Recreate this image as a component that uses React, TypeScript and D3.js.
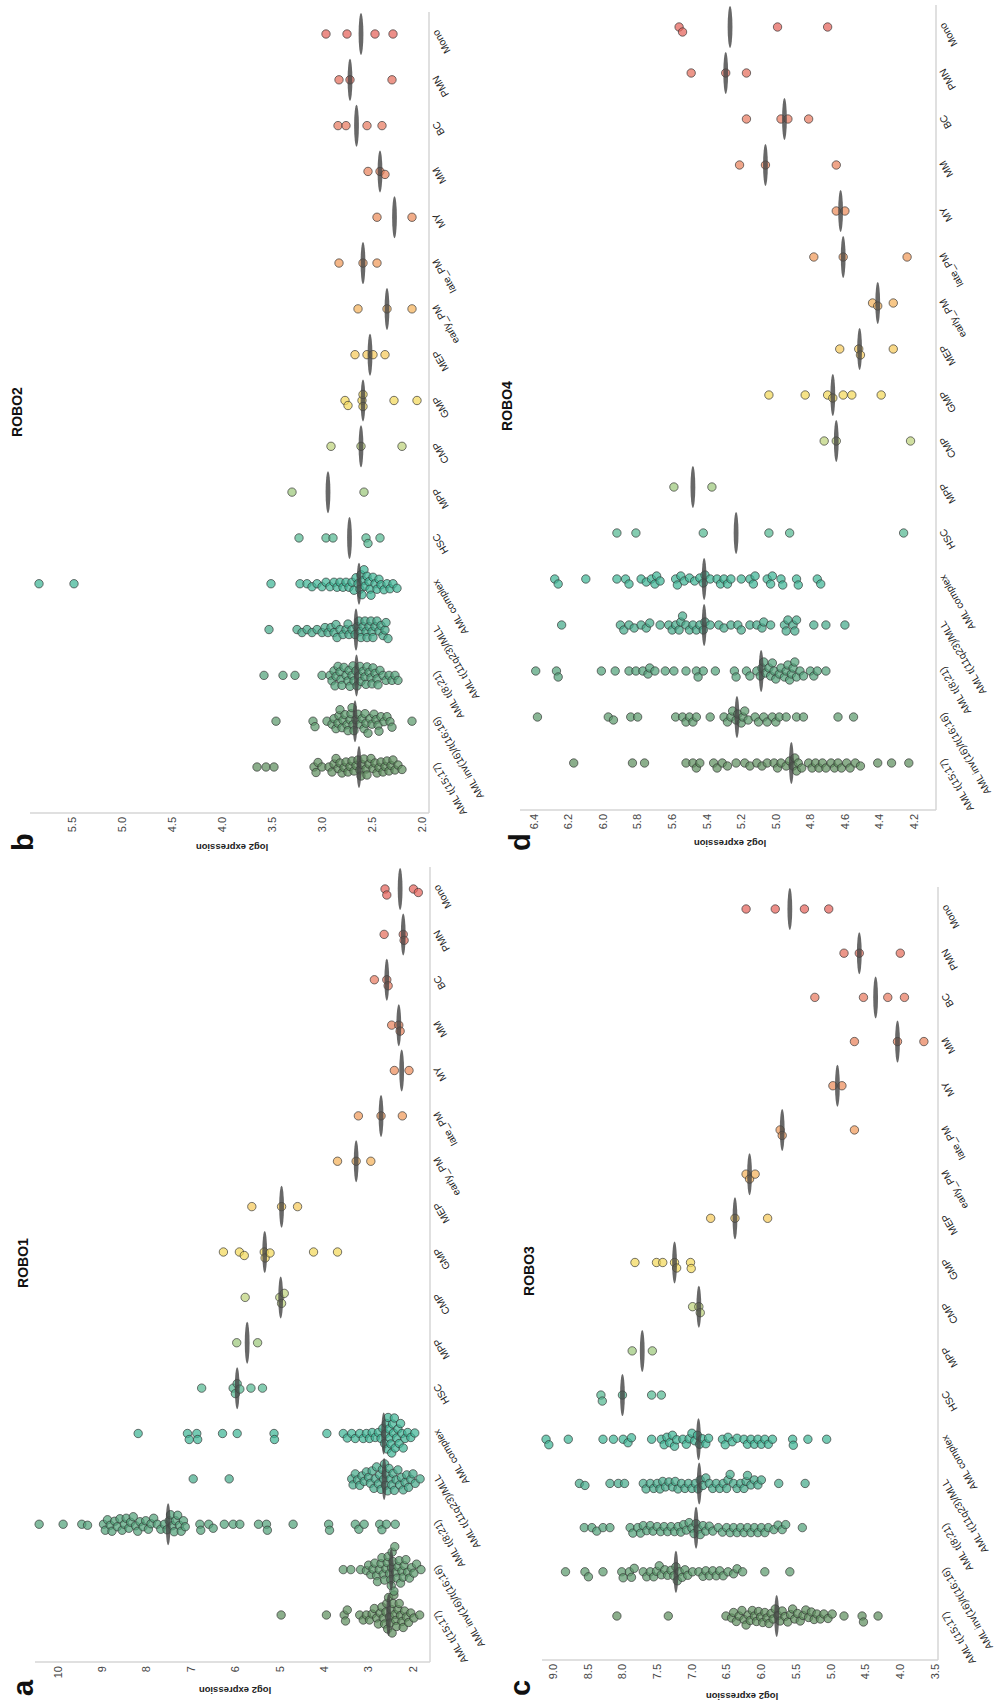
import React from 'react';
import * as d3 from 'd3';

const CATEGORIES = [
  'AML t(15;17)', 'AML inv(16)/t(16;16)', 'AML t(8;21)', 'AML t(11q23)/MLL', 'AML complex',
  'HSC', 'MPP', 'CMP', 'GMP', 'MEP', 'early_PM', 'late_PM', 'MY', 'MM', 'BC', 'PMN', 'Mono',
];

const CATEGORY_COLORS = [
  '#5e8f5e', '#5c9a6c', '#52a27a', '#45ab8a', '#3fb596',
  '#55b991', '#9cc77c', '#bed37c', '#f2d85a', '#f5c95a', '#f4b25a', '#f09a5a',
  '#ec8c5a', '#e9825c', '#e77a60', '#e56e5c', '#e4625a',
];

const GENES = ['ROBO1', 'ROBO2', 'ROBO3', 'ROBO4'];
const PANEL_LETTERS = ['a', 'b', 'c', 'd'];

const ROBO1 = [
  [4.97, 3.95, 3.55, 3.52, 3.48, 3.2, 3.12, 3.05, 2.98, 2.92, 2.87, 2.82, 2.78, 2.74, 2.7, 2.67, 2.64, 2.61, 2.59, 2.57, 2.55, 2.53, 2.51, 2.49, 2.47, 2.45, 2.43, 2.41, 2.39, 2.37, 2.34, 2.31, 2.28, 2.25, 2.22, 2.19, 2.15, 2.1, 2.05, 1.98, 1.85],
  [3.57, 3.4, 3.18, 3.05, 3.0, 2.95, 2.9, 2.86, 2.82, 2.8, 2.76, 2.72, 2.7, 2.67, 2.64, 2.61, 2.58, 2.56, 2.53, 2.5, 2.49, 2.48, 2.47, 2.45, 2.43, 2.41, 2.39, 2.36, 2.34, 2.31, 2.28, 2.25, 2.22, 2.2, 2.16, 2.12, 2.08, 2.03, 1.98, 1.92, 1.82],
  [10.42, 9.88, 9.46, 9.33, 8.97, 8.93, 8.88, 8.82, 8.78, 8.72, 8.66, 8.6, 8.55, 8.5, 8.46, 8.4, 8.36, 8.3, 8.25, 8.2, 8.15, 8.08, 8.02, 7.96, 7.9, 7.84, 7.76, 7.68, 7.6, 7.54, 7.49, 7.46, 7.42, 7.38, 7.35, 7.3, 7.26, 7.22, 7.17, 7.13, 6.8, 6.78, 6.6, 6.5, 6.25, 6.05, 5.9, 5.48, 5.3, 5.28, 4.7, 3.9, 3.88, 3.3, 3.22, 3.1, 2.75, 2.7, 2.6, 2.4],
  [6.95, 6.14, 3.38, 3.35, 3.3, 3.25, 3.2, 3.15, 3.1, 3.05, 3.0, 2.96, 2.92, 2.88, 2.85, 2.82, 2.78, 2.75, 2.72, 2.69, 2.66, 2.64, 2.62, 2.6, 2.57, 2.54, 2.51, 2.48, 2.45, 2.42, 2.38, 2.34, 2.3, 2.26, 2.22, 2.18, 2.14, 2.1, 2.05, 2.0, 1.95, 1.84],
  [8.19, 7.08, 7.04, 6.87, 6.85, 6.29, 5.96, 5.13, 5.12, 3.94, 3.57, 3.48, 3.38, 3.3, 3.2, 3.12, 3.05, 2.98, 2.92, 2.85, 2.78, 2.72, 2.68, 2.64, 2.62, 2.6, 2.58, 2.56, 2.54, 2.52, 2.5, 2.48, 2.46, 2.44, 2.42, 2.4, 2.37, 2.34, 2.31, 2.28, 2.25, 2.22, 2.18, 2.12, 2.05, 1.96],
  [6.76, 6.05, 6.0, 5.96, 5.9, 5.65, 5.39],
  [5.97, 5.5],
  [5.78, 5.0, 4.96, 4.9],
  [6.27, 5.91, 5.8, 5.35, 5.33, 5.22, 4.24, 3.7],
  [5.63, 4.96, 4.6],
  [3.7, 3.28, 2.95],
  [3.23, 2.72, 2.24],
  [2.42, 2.09],
  [2.48, 2.32, 2.29],
  [2.87, 2.59, 2.56],
  [2.65, 2.22, 2.2],
  [2.63, 2.59, 1.99, 1.88],
];

const ROBO2 = [
  [3.65, 3.56, 3.48, 3.08, 3.06, 3.04, 3.0, 2.93, 2.9, 2.88, 2.86, 2.84, 2.82, 2.8, 2.78, 2.76, 2.74, 2.72, 2.7, 2.68, 2.66, 2.64, 2.62, 2.61, 2.6, 2.58, 2.56, 2.55, 2.53, 2.51, 2.49, 2.47, 2.45, 2.43, 2.41, 2.39, 2.37, 2.35, 2.33, 2.31, 2.29, 2.27, 2.24, 2.2],
  [3.46, 3.09, 3.07, 2.95, 2.9, 2.88, 2.86, 2.84, 2.83, 2.82, 2.8, 2.79, 2.77, 2.75, 2.74, 2.72, 2.71, 2.7, 2.69, 2.68, 2.66, 2.64, 2.62, 2.6, 2.58, 2.57, 2.56, 2.54, 2.52, 2.5, 2.48, 2.46, 2.44, 2.43, 2.41, 2.38, 2.35, 2.32, 2.3, 2.1],
  [3.58, 3.39, 3.27, 3.0, 2.92, 2.9, 2.88, 2.87, 2.86, 2.84, 2.82, 2.81, 2.8, 2.78, 2.76, 2.74, 2.73, 2.72, 2.7, 2.69, 2.68, 2.66, 2.65, 2.63, 2.62, 2.61, 2.59, 2.57, 2.56, 2.55, 2.53, 2.51, 2.5, 2.49, 2.47, 2.45, 2.44, 2.42, 2.39, 2.36, 2.33, 2.3, 2.27, 2.24],
  [3.53, 3.25, 3.2, 3.15, 3.1, 3.05, 3.0, 2.97, 2.94, 2.91, 2.88, 2.86, 2.85, 2.82, 2.79, 2.76, 2.74, 2.73, 2.7, 2.67, 2.65, 2.63, 2.62, 2.61, 2.59, 2.57, 2.56, 2.55, 2.53, 2.51, 2.5, 2.49, 2.47, 2.45, 2.43, 2.41, 2.39, 2.37, 2.36, 2.34],
  [5.83, 5.48, 3.51, 3.22, 3.15, 3.1, 3.05, 3.0, 2.96, 2.92, 2.88, 2.85, 2.82, 2.79, 2.76, 2.73, 2.7, 2.68, 2.66, 2.64, 2.62, 2.61, 2.6, 2.59, 2.58, 2.57, 2.55, 2.53, 2.52, 2.51, 2.49, 2.47, 2.45, 2.43, 2.41, 2.38, 2.35, 2.32, 2.29, 2.25],
  [3.23, 2.96, 2.89, 2.56, 2.54, 2.42],
  [3.3, 2.58],
  [2.91, 2.61, 2.2],
  [2.77, 2.74, 2.6, 2.59, 2.59, 2.28, 2.05],
  [2.67, 2.55, 2.49, 2.37],
  [2.64, 2.35, 2.1],
  [2.83, 2.59, 2.45],
  [2.45, 2.1],
  [2.54, 2.42, 2.37],
  [2.84, 2.76, 2.55, 2.4],
  [2.83, 2.72, 2.3],
  [2.96, 2.75, 2.47, 2.29],
];

const ROBO3 = [
  [8.08, 7.34, 6.51, 6.43, 6.4, 6.36, 6.32, 6.28, 6.25, 6.22, 6.19, 6.16, 6.13, 6.1, 6.07, 6.04, 6.01, 5.98, 5.95, 5.92, 5.89, 5.86, 5.83, 5.8, 5.76, 5.73, 5.7, 5.66, 5.62, 5.58, 5.55, 5.52, 5.48, 5.44, 5.4, 5.36, 5.32, 5.28, 5.24, 5.2, 5.15, 5.1, 5.04, 4.98, 4.81, 4.55, 4.53, 4.32],
  [8.82, 8.54, 8.49, 8.28, 8.01, 7.99, 7.9, 7.87, 7.83, 7.7, 7.65, 7.6, 7.55, 7.51, 7.47, 7.44, 7.39, 7.35, 7.3, 7.26, 7.23, 7.21, 7.18, 7.14, 7.1, 7.06, 6.99, 6.9, 6.84, 6.8, 6.75, 6.7, 6.65, 6.6, 6.55, 6.48, 6.4, 6.35, 6.27, 5.95, 5.59],
  [8.55, 8.44, 8.37, 8.28, 8.18, 7.89, 7.85, 7.78, 7.74, 7.7, 7.65, 7.6, 7.56, 7.5, 7.45, 7.4, 7.35, 7.3, 7.25, 7.2, 7.16, 7.12, 7.08, 7.04, 7.0, 6.97, 6.94, 6.91, 6.88, 6.84, 6.8, 6.75, 6.7, 6.62, 6.56, 6.5, 6.45, 6.4, 6.35, 6.3, 6.25, 6.2, 6.15, 6.1, 6.05, 6.0, 5.95, 5.9, 5.82, 5.76, 5.7, 5.65, 5.41],
  [8.62, 8.54, 8.18, 8.06, 7.97, 7.7, 7.66, 7.6, 7.55, 7.5, 7.46, 7.42, 7.38, 7.33, 7.28, 7.24, 7.2, 7.15, 7.1, 7.05, 7.0, 6.95, 6.91, 6.88, 6.84, 6.8, 6.75, 6.7, 6.65, 6.6, 6.55, 6.5, 6.48, 6.45, 6.4, 6.35, 6.3, 6.25, 6.22, 6.2, 6.15, 6.1, 6.05, 6.0, 5.75, 5.37],
  [9.1, 9.06, 8.78, 8.28, 8.13, 7.99, 7.92, 7.87, 7.58, 7.44, 7.4, 7.36, 7.32, 7.28, 7.25, 7.22, 7.13, 7.08, 7.04, 7.0, 6.96, 6.92, 6.89, 6.85, 6.8, 6.76, 6.56, 6.52, 6.48, 6.42, 6.35, 6.25, 6.2, 6.15, 6.1, 6.05, 6.0, 5.95, 5.9, 5.84, 5.55, 5.54, 5.33, 5.06],
  [8.31, 8.29, 8.0, 7.58, 7.44],
  [7.86, 7.57],
  [6.99, 6.9, 6.88],
  [7.82, 7.51, 7.42, 7.25, 7.22, 7.02, 7.01],
  [6.73, 6.38, 5.91],
  [6.22, 6.17, 6.09],
  [5.73, 5.7, 4.66],
  [4.97, 4.84],
  [4.66, 4.04, 3.66],
  [5.23, 4.53, 4.18, 3.94],
  [4.81, 4.59, 4.0],
  [6.22, 5.8, 5.38, 5.03],
];

const ROBO4 = [
  [6.17, 5.83, 5.76, 5.52, 5.48, 5.46, 5.44, 5.36, 5.34, 5.31, 5.28, 5.23, 5.18, 5.15, 5.11, 5.08, 5.05, 5.01, 4.99, 4.97, 4.94, 4.92, 4.9, 4.89, 4.88, 4.87, 4.85, 4.81, 4.79, 4.77, 4.75, 4.73, 4.71, 4.68, 4.66, 4.64, 4.62, 4.59, 4.57, 4.54, 4.51, 4.41, 4.33, 4.23],
  [6.38, 5.97, 5.94, 5.84, 5.8, 5.58, 5.54, 5.52, 5.5, 5.48, 5.46, 5.38, 5.3, 5.28, 5.26, 5.25, 5.23, 5.22, 5.2, 5.19, 5.18, 5.16, 5.12, 5.1, 5.07, 5.05, 5.02, 5.0, 4.98, 4.94, 4.88, 4.84, 4.64, 4.55],
  [6.39, 6.27, 6.26, 6.01, 5.93, 5.85, 5.81, 5.77, 5.74, 5.73, 5.7, 5.64, 5.59, 5.52, 5.46, 5.45, 5.42, 5.35, 5.24, 5.23, 5.17, 5.15, 5.11, 5.09, 5.08, 5.07, 5.06, 5.04, 5.03, 5.02, 5.01, 5.0, 4.98, 4.97, 4.95, 4.94, 4.93, 4.92, 4.91, 4.9, 4.89, 4.88, 4.86, 4.84, 4.8, 4.78, 4.76, 4.71],
  [6.24, 5.9, 5.88, 5.85, 5.82, 5.78, 5.75, 5.73, 5.67, 5.62, 5.6, 5.58, 5.56, 5.55, 5.54, 5.52, 5.5, 5.48, 5.46, 5.44, 5.42, 5.41, 5.38, 5.33, 5.3, 5.26, 5.22, 5.2, 5.15, 5.11, 5.08, 5.07, 5.03, 4.95, 4.94, 4.93, 4.9, 4.89, 4.88, 4.78, 4.71, 4.6],
  [6.28, 6.26, 6.1, 5.92, 5.87, 5.85, 5.78, 5.75, 5.72, 5.7, 5.69, 5.67, 5.58, 5.57, 5.55, 5.53, 5.5, 5.47, 5.44, 5.42, 5.41, 5.38, 5.34, 5.32, 5.3, 5.28, 5.26, 5.2, 5.15, 5.13, 5.12, 5.05, 5.03, 5.02, 4.97, 4.96, 4.88, 4.87, 4.76, 4.74],
  [5.92, 5.81, 5.42, 5.04, 4.92, 4.26],
  [5.59, 5.37],
  [4.72, 4.65, 4.22],
  [5.04, 4.83, 4.7, 4.67, 4.61, 4.56, 4.39],
  [4.63, 4.52, 4.51, 4.32],
  [4.44, 4.41, 4.32],
  [4.78, 4.61, 4.24],
  [4.65, 4.6],
  [5.21, 5.06, 4.65],
  [5.17, 4.97, 4.93, 4.81],
  [5.49, 5.29, 5.17],
  [5.56, 5.54, 4.99, 4.7],
];

const TICKS_ROBO1 = [2, 3, 4, 5, 6, 7, 8, 9, 10];
const TICKS_ROBO2 = [2.0, 2.5, 3.0, 3.5, 4.0, 4.5, 5.0, 5.5];
const TICKS_ROBO3 = [3.5, 4.0, 4.5, 5.0, 5.5, 6.0, 6.5, 7.0, 7.5, 8.0, 8.5, 9.0];
const TICKS_ROBO4 = [4.2, 4.4, 4.6, 4.8, 5.0, 5.2, 5.4, 5.6, 5.8, 6.0, 6.2, 6.4];

const W = 1706; // width of the unrotated figure
const H = 997;
const FONT = "'Liberation Sans', Arial, Helvetica, sans-serif";
const R = 4.2;

type Layout = {
  data: number[][];
  ticks: number[];
  fmt: (n: number) => string;
  axisX: number;
  axisTop: number;
  base: number;
  catStart: number;
  catEnd: number;
  catLineEnd: number;
  domain: [number, number];
  range: [number, number];
  titleX: number;
  titleY: number;
  letterX: number;
  letterY: number;
  ylabX: number;
  ylabY: number;
};

const LAYOUTS: Layout[] = [
  { data: ROBO1, ticks: TICKS_ROBO1, fmt: d3.format('d'), axisX: 44, axisTop: 35, base: 430, catStart: 91, catEnd: 817, catLineEnd: 839,
    domain: [2, 10], range: [413, 57.8], titleX: 443, titleY: 28, letterX: 10, letterY: 33, ylabX: 16, ylabY: 235 },
  { data: ROBO2, ticks: TICKS_ROBO2, fmt: d3.format('.1f'), axisX: 893, axisTop: 30, base: 429, catStart: 939, catEnd: 1672, catLineEnd: 1694,
    domain: [2, 5.5], range: [422, 72], titleX: 1294, titleY: 22, letterX: 855, letterY: 33, ylabX: 859, ylabY: 232 },
  { data: ROBO3, ticks: TICKS_ROBO3, fmt: d3.format('.1f'), axisX: 46, axisTop: 542, base: 938, catStart: 90, catEnd: 797, catLineEnd: 819,
    domain: [3.5, 9], range: [935, 553], titleX: 435, titleY: 534, letterX: 10, letterY: 530, ylabX: 10, ylabY: 742 },
  { data: ROBO4, ticks: TICKS_ROBO4, fmt: d3.format('.1f'), axisX: 896, axisTop: 520, base: 936, catStart: 943, catEnd: 1679, catLineEnd: 1701,
    domain: [4.2, 6.4], range: [914, 534], titleX: 1300, titleY: 512, letterX: 855, letterY: 530, ylabX: 863, ylabY: 730 },
];

function swarm(values: number[], cx: number, y: (v: number) => number, D: number) {
  const pts = values.map((v, i) => ({ v, i, y: y(v), dx: 0 }));
  const order = [...pts].sort((a, b) => a.y - b.y);
  const placed: { dx: number; y: number }[] = [];
  for (const p of order) {
    let best = 0;
    for (let k = 0; k < 400; k++) {
      const off = (k % 2 === 0 ? 1 : -1) * Math.ceil(k / 2) * 0.5;
      let ok = true;
      for (const q of placed) {
        const ddx = q.dx - off;
        const ddy = q.y - p.y;
        if (ddx * ddx + ddy * ddy < D * D) { ok = false; break; }
      }
      if (ok) { best = off; break; }
    }
    p.dx = best;
    placed.push(p);
  }
  return pts.map((p) => ({ v: p.v, x: cx + p.dx, y: p.y }));
}

function Panel({ L, gene, letter }: { L: Layout; gene: string; letter: string }) {
  const y = d3.scaleLinear().domain(L.domain).range(L.range);
  const x = d3.scalePoint<string>().domain(CATEGORIES).range([L.catStart, L.catEnd]);
  return (
    <g>
      <line x1={L.axisX} x2={L.axisX} y1={L.axisTop} y2={L.base} stroke="#d6d6d6" strokeWidth={1.5} />
      <line x1={L.axisX} x2={L.catLineEnd} y1={L.base} y2={L.base} stroke="#d6d6d6" strokeWidth={1.5} />
      {L.ticks.map((t) => (
        <text key={t} x={L.axisX - 4} y={y(t)} dy="0.35em" textAnchor="end" fontSize={11} fill="#444">
          {L.fmt(t)}
        </text>
      ))}
      <text transform={`translate(${L.ylabX},${L.ylabY}) rotate(-90)`} dy="0.35em" textAnchor="middle" fontSize={9.5} fontWeight="bold" fill="#222">
        log2 expression
      </text>
      {CATEGORIES.map((c) => (
        <text key={c} transform={`translate(${(x(c) as number) + 5},${L.base + 9}) rotate(-30)`} textAnchor="end" fontSize={10.2} fill="#222">
          {c}
        </text>
      ))}
      {CATEGORIES.map((c, ci) => {
        const vals = L.data[ci];
        const cx = x(c) as number;
        const pts = swarm(vals, cx, y, 5.8);
        return (
          <g key={c}>
            {pts.map((p, i) => (
              <circle key={i} cx={p.x} cy={p.y} r={R} fill={CATEGORY_COLORS[ci]} fillOpacity={0.72} stroke="#333" strokeOpacity={0.75} strokeWidth={0.9} />
            ))}
          </g>
        );
      })}
      {CATEGORIES.map((c, ci) => {
        const med = d3.median(L.data[ci]) as number;
        return <ellipse key={c} cx={x(c) as number} cy={y(med)} rx={21} ry={2.4} fill="#474747" fillOpacity={0.82} />;
      })}
      <text x={L.titleX} y={L.titleY} textAnchor="middle" fontSize={14} fontWeight="bold" fill="#111">{gene}</text>
      <text x={L.letterX} y={L.letterY} fontSize={29} fontWeight="bold" fill="#111">{letter}</text>
    </g>
  );
}

export default function App() {
  return (
    <svg width={H} height={W} viewBox={`0 0 ${H} ${W}`} style={{ position: 'absolute', left: 0, top: 0, display: 'block' }} fontFamily={FONT}>
      <rect x={0} y={0} width={H} height={W} fill="#ffffff" />
      <g transform={`translate(0,${W}) rotate(-90)`}>
        {LAYOUTS.map((L, i) => (
          <Panel key={GENES[i]} L={L} gene={GENES[i]} letter={PANEL_LETTERS[i]} />
        ))}
      </g>
    </svg>
  );
}
